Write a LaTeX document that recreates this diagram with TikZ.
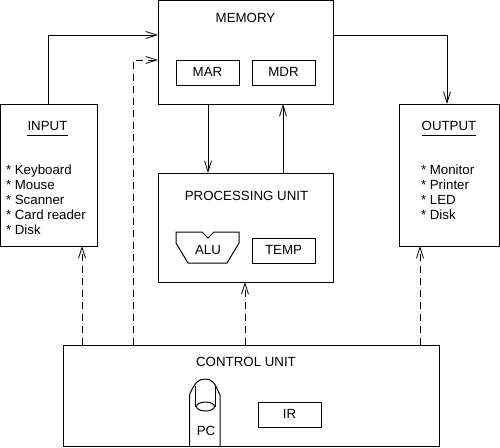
\documentclass[tikz,border=0pt]{standalone}
\usepackage{fontspec}
\setmainfont{Liberation Sans}
\usetikzlibrary{arrows.meta,calc}
\tikzset{
  box/.style={draw=black,line width=1pt,rectangle,inner sep=0pt,outer sep=0pt},
  smallbox/.style={box,minimum width=63pt,minimum height=25pt,text height=9.6pt,text depth=2pt},
  label/.style={inner sep=0pt,outer sep=0pt,anchor=base,font=\fontsize{13.3}{15}\selectfont},
  listitem/.style={label,anchor=base west},
  conn/.style={draw=black,line width=1pt,-{Straight Barb[length=11pt,width=7pt,line width=0.8pt]}},
  dconn/.style={conn,dash pattern=on 7pt off 5pt},
  thin line/.style={draw=black,line width=1pt},
}
\begin{document}
\begin{tikzpicture}[x=1pt,y=-1pt,font=\fontsize{13.3}{15}\selectfont]
\useasboundingbox (0,0) rectangle (500,447);
% main boxes
\node[box,minimum width=175pt,minimum height=104pt] (mem) at (245.5,52) {};
\node[box,minimum width=97pt,minimum height=142pt] (input) at (48.5,175) {};
\node[box,minimum width=100pt,minimum height=142pt] (output) at (449,175) {};
\node[box,minimum width=175pt,minimum height=109pt] (proc) at (245.5,227.5) {};
\node[box,minimum width=376pt,minimum height=101pt] (ctrl) at (251,395.5) {};
% inner boxes
\node[smallbox] (mar) at (207.5,72.5) {MAR};
\node[smallbox] (mdr) at (283.5,72.5) {MDR};
\node[smallbox] (temp) at (283.5,250.5) {TEMP};
\node[smallbox] (ir) at (289.5,414.5) {IR};
% titles
\node[label] (memt) at (245.5,22) {MEMORY};
\node[label] (proct) at (246.5,200) {PROCESSING UNIT};
\node[label] (ctrlt) at (246,366) {CONTROL UNIT};
\node[label] (inputt) at (47.5,130) {INPUT};
\node[label] (outputt) at (449,130) {OUTPUT};
\draw[thin line] (27,135) -- (68,135);
\draw[thin line] (422,135) -- (476,135);
% lists
\node[listitem] (i1) at (6,174) {* Keyboard};
\node[listitem] (i2) at (6,189) {* Mouse};
\node[listitem] (i3) at (6,204) {* Scanner};
\node[listitem] (i4) at (6,219) {* Card reader};
\node[listitem] (i5) at (6,234.5) {* Disk};
\node[listitem] (o1) at (421,174) {* Monitor};
\node[listitem] (o2) at (421,189) {* Printer};
\node[listitem] (o3) at (421,204) {* LED};
\node[listitem] (o4) at (421,219) {* Disk};
% ALU
\draw[thin line] (176,232) -- (202,232) -- (208,238) -- (214,232) -- (239,232)
  -- (239,243) -- (227,263) -- (188,263) -- (176,243) -- cycle;
\node[label] (alu) at (208,254) {ALU};
% PC
\draw[thin line] (189.5,446) -- (189.5,395) .. controls (191,391) and (194,385) .. (197,382)
  .. controls (201,378) and (209,378) .. (213,382) .. controls (216,385) and (218,391) .. (220,395) -- (220,446);
\draw[thin line] (195.5,407) -- (195.5,386) (215,386) -- (215,407);
\draw[thin line] (205.5,406.5) ellipse [x radius=9pt,y radius=4.5pt];
\node[label] (pc) at (206,435) {PC};
% anchor points on box edges
\coordinate (memA) at ($(mem.north west)+(0,35)$);
\coordinate (memB) at ($(mem.north west)+(0,60)$);
\coordinate (memC) at ($(mem.north east)+(0,35)$);
\coordinate (memD) at ($(mem.south west)+(50,0)$);
\coordinate (memE) at ($(mem.south west)+(125,0)$);
\coordinate (procD) at ($(proc.north west)+(50,0)$);
\coordinate (procE) at ($(proc.north west)+(125,0)$);
\coordinate (outT) at ($(output.north west)+(48,0)$);
\coordinate (inB) at ($(input.south west)+(82,0)$);
\coordinate (ctrlA) at ($(ctrl.north west)+(19,0)$);
\coordinate (ctrlB) at ($(ctrl.north west)+(70,0)$);
\coordinate (ctrlC) at ($(ctrl.north west)+(182,0)$);
\coordinate (ctrlD) at ($(ctrl.north west)+(357,0)$);
\coordinate (outB) at ($(output.south west)+(21,0)$);
\coordinate (procB) at ($(proc.south west)+(87,0)$);
% connectors
\draw[conn] (input.north) |- (memA);
\draw[conn] (memC) -| (outT);
\draw[conn] (memD) -- (procD);
\draw[conn] (procE) -- (memE);
\draw[dconn] (ctrlA) -- (inB);
\draw[dconn] (ctrlB) |- (memB);
\draw[dconn] (ctrlC) -- (procB);
\draw[dconn] (ctrlD) -- (outB);
\end{tikzpicture}
\end{document}
